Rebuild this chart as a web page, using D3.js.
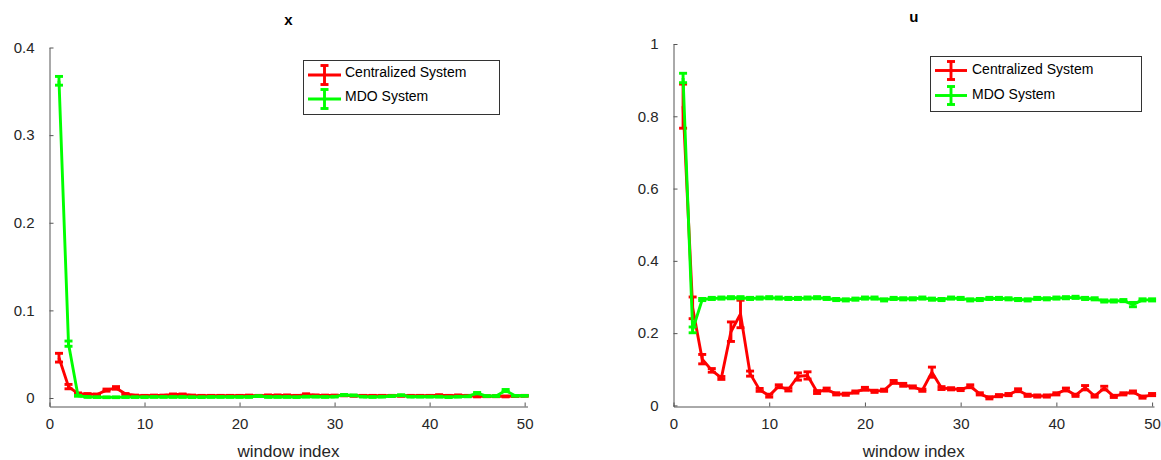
<!DOCTYPE html>
<html>
<head>
<meta charset="utf-8">
<script src="https://cdn.jsdelivr.net/npm/d3@7"></script>
<style>
  html, body { margin: 0; padding: 0; background: #fff; }
  svg { display: block; font-family: "Liberation Sans", Arial, Helvetica, sans-serif; }
</style>
</head>
<body>
<svg id="chart" width="1161" height="460"></svg>
<script>
// window indices shared by both panels
const windowIndex = d3.range(1, 51);

// state error x: mean and error-bar half width per window
const xCentralMean = [0.046, 0.013, 0.005, 0.0045, 0.004, 0.009, 0.0115, 0.0045, 0.0028, 0.0025,
  0.0028, 0.0028, 0.0040, 0.0040, 0.0028, 0.0025, 0.0025, 0.0025, 0.0025, 0.0025,
  0.0028, 0.0025, 0.0030, 0.0030, 0.0030, 0.0025, 0.0042, 0.0030, 0.0028, 0.0028,
  0.0030, 0.0025, 0.0025, 0.0025, 0.0025, 0.0025, 0.0025, 0.0025, 0.0025, 0.0025,
  0.0032, 0.0025, 0.0030, 0.0025, 0.0018, 0.0020, 0.0020, 0.0018, 0.0022, 0.0025];
const xCentralErr = [0.005, 0.0025, 0.0008, 0.0005, 0.0005, 0.0012, 0.0015, 0.0006, 0.0005, 0.0005,
  0.0005, 0.0005, 0.0006, 0.0006, 0.0005, 0.0005, 0.0005, 0.0005, 0.0005, 0.0005,
  0.0005, 0.0005, 0.0005, 0.0005, 0.0005, 0.0005, 0.0006, 0.0005, 0.0005, 0.0005,
  0.0005, 0.0005, 0.0005, 0.0005, 0.0005, 0.0005, 0.0005, 0.0005, 0.0005, 0.0005,
  0.0005, 0.0005, 0.0005, 0.0005, 0.0005, 0.0005, 0.0005, 0.0005, 0.0005, 0.0005];
const xMdoMean = [0.362, 0.062, 0.0025, 0.0012, 0.0010, 0.0008, 0.0008, 0.0010, 0.0010, 0.0010,
  0.0012, 0.0012, 0.0012, 0.0012, 0.0010, 0.0010, 0.0012, 0.0012, 0.0012, 0.0012,
  0.0012, 0.0022, 0.0012, 0.0012, 0.0012, 0.0010, 0.0015, 0.0015, 0.0012, 0.0015,
  0.0035, 0.0030, 0.0015, 0.0012, 0.0015, 0.0022, 0.0032, 0.0015, 0.0015, 0.0015,
  0.0015, 0.0010, 0.0015, 0.0018, 0.0055, 0.0022, 0.0022, 0.0085, 0.0025, 0.0025];
const xMdoErr = [0.005, 0.003, 0.0005, 0.0004, 0.0004, 0.0004, 0.0004, 0.0004, 0.0004, 0.0004,
  0.0004, 0.0004, 0.0004, 0.0004, 0.0004, 0.0004, 0.0004, 0.0004, 0.0004, 0.0004,
  0.0004, 0.0004, 0.0004, 0.0004, 0.0004, 0.0004, 0.0004, 0.0004, 0.0004, 0.0004,
  0.0005, 0.0005, 0.0004, 0.0004, 0.0004, 0.0004, 0.0005, 0.0004, 0.0004, 0.0004,
  0.0004, 0.0004, 0.0004, 0.0004, 0.0008, 0.0004, 0.0004, 0.0012, 0.0004, 0.0004];

// control error u: mean and error-bar half width per window
const uCentralMean = [0.828, 0.270, 0.128, 0.097, 0.076, 0.204, 0.253, 0.088, 0.043, 0.027,
  0.053, 0.044, 0.080, 0.083, 0.037, 0.044, 0.032, 0.031, 0.037, 0.046,
  0.039, 0.042, 0.065, 0.057, 0.051, 0.042, 0.092, 0.048, 0.046, 0.044,
  0.053, 0.032, 0.021, 0.027, 0.030, 0.042, 0.028, 0.026, 0.026, 0.032,
  0.044, 0.028, 0.049, 0.026, 0.048, 0.025, 0.032, 0.037, 0.023, 0.030];
const uCentralErr = [0.061, 0.030, 0.013, 0.005, 0.004, 0.027, 0.038, 0.007, 0.004, 0.004,
  0.004, 0.004, 0.010, 0.010, 0.004, 0.004, 0.003, 0.003, 0.003, 0.004,
  0.003, 0.003, 0.004, 0.004, 0.003, 0.003, 0.014, 0.004, 0.003, 0.003,
  0.004, 0.003, 0.003, 0.003, 0.003, 0.004, 0.003, 0.003, 0.003, 0.003,
  0.004, 0.003, 0.006, 0.003, 0.005, 0.003, 0.003, 0.003, 0.003, 0.003];
const uMdoMean = [0.906, 0.209, 0.293, 0.296, 0.297, 0.298, 0.298, 0.296, 0.297, 0.298,
  0.297, 0.296, 0.296, 0.297, 0.298, 0.296, 0.293, 0.292, 0.294, 0.297,
  0.297, 0.292, 0.296, 0.295, 0.295, 0.297, 0.294, 0.293, 0.297, 0.296,
  0.292, 0.293, 0.296, 0.296, 0.295, 0.293, 0.292, 0.296, 0.295, 0.297,
  0.298, 0.299, 0.296, 0.295, 0.289, 0.289, 0.290, 0.279, 0.292, 0.292];
const uMdoErr = [0.013, 0.008, 0.003, 0.003, 0.003, 0.003, 0.003, 0.003, 0.003, 0.003,
  0.003, 0.003, 0.003, 0.003, 0.003, 0.003, 0.003, 0.003, 0.003, 0.003,
  0.003, 0.003, 0.003, 0.003, 0.003, 0.003, 0.003, 0.003, 0.003, 0.003,
  0.003, 0.003, 0.003, 0.003, 0.003, 0.003, 0.003, 0.003, 0.003, 0.003,
  0.003, 0.003, 0.003, 0.003, 0.003, 0.003, 0.003, 0.006, 0.003, 0.003];

const xTicks = [0, 10, 20, 30, 40, 50];
const xPanelYTicks = [0, 0.1, 0.2, 0.3, 0.4];
const uPanelYTicks = [0, 0.2, 0.4, 0.6, 0.8, 1];
const seriesNames = ["Centralized System", "MDO System"];
const seriesColors = ["#ff0000", "#00ff00"];
const xLabel = "window index";

const svg = d3.select("#chart");
const AXIS_COLOR = "#555";
const TEXT_COLOR = "#262626";
const LINE_W = 2.9;

function drawPanel(cfg) {
  const x = d3.scaleLinear().domain(cfg.xDomain).range(cfg.xRange);
  const y = d3.scaleLinear().domain(cfg.yDomain).range(cfg.yRange);
  const g = svg.append("g");

  // axes: ticks point inward, no box
  const ax = g.append("g")
    .attr("transform", `translate(0,${cfg.yRange[0]})`)
    .call(d3.axisBottom(x).tickValues(xTicks).tickSize(-4).tickPadding(12).tickSizeOuter(0)
      .tickFormat(d3.format("d")));
  const ay = g.append("g")
    .attr("transform", `translate(${cfg.xRange[0]},0)`)
    .call(d3.axisLeft(y).tickValues(cfg.yTicks).tickSize(-4).tickPadding(15).tickSizeOuter(0)
      .tickFormat(d => d === 0 ? "0" : (d === 1 ? "1" : d3.format(".1f")(d))));
  [ax, ay].forEach(a => {
    a.select(".domain").attr("stroke", AXIS_COLOR).attr("stroke-width", 1);
    a.selectAll(".tick line").attr("stroke", AXIS_COLOR);
    a.selectAll(".tick text").attr("fill", TEXT_COLOR).style("font-size", "15px");
  });

  // title and axis label
  g.append("text")
    .attr("x", (cfg.xRange[0] + cfg.xRange[1]) / 2).attr("y", cfg.titleY)
    .attr("text-anchor", "middle").attr("font-weight", "bold").attr("font-size", 15)
    .attr("fill", "#000").text(cfg.title);
  g.append("text")
    .attr("x", (cfg.xRange[0] + cfg.xRange[1]) / 2).attr("y", 457)
    .attr("text-anchor", "middle").attr("font-size", 17)
    .attr("fill", TEXT_COLOR).text(xLabel);

  // error-bar series
  const capHalf = 4;
  cfg.series.forEach((s, k) => {
    const pts = windowIndex.map((w, i) => ({ w, m: s.mean[i], e: s.err[i] }));
    const sg = g.append("g").attr("stroke", seriesColors[k]).attr("fill", "none")
      .attr("stroke-width", LINE_W).attr("stroke-linejoin", "round");
    sg.append("path")
      .attr("d", d3.line().x(d => x(d.w)).y(d => y(d.m))(pts));
    const eb = sg.selectAll("g.eb").data(pts).join("g").attr("class", "eb");
    eb.append("line")
      .attr("x1", d => x(d.w)).attr("x2", d => x(d.w))
      .attr("y1", d => y(d.m - d.e)).attr("y2", d => y(d.m + d.e));
    eb.append("line")
      .attr("x1", d => x(d.w) - capHalf).attr("x2", d => x(d.w) + capHalf)
      .attr("y1", d => y(d.m + d.e)).attr("y2", d => y(d.m + d.e));
    eb.append("line")
      .attr("x1", d => x(d.w) - capHalf).attr("x2", d => x(d.w) + capHalf)
      .attr("y1", d => y(d.m - d.e)).attr("y2", d => y(d.m - d.e));
  });

  // legend
  const L = cfg.legend;
  g.append("rect")
    .attr("x", L.x0).attr("y", L.y0).attr("width", L.x1 - L.x0).attr("height", L.y1 - L.y0)
    .attr("fill", "#fff").attr("stroke", "#333").attr("stroke-width", 1);
  seriesNames.forEach((name, k) => {
    const ly = L.rows[k];
    const lg = g.append("g").attr("stroke", seriesColors[k]).attr("stroke-width", LINE_W);
    lg.append("line").attr("x1", L.lx0).attr("x2", L.lx1).attr("y1", ly).attr("y2", ly);
    const cx = (L.lx0 + L.lx1) / 2;
    lg.append("line").attr("x1", cx).attr("x2", cx).attr("y1", ly - L.eh).attr("y2", ly + L.eh);
    lg.append("line").attr("x1", cx - capHalf).attr("x2", cx + capHalf).attr("y1", ly - L.eh).attr("y2", ly - L.eh);
    lg.append("line").attr("x1", cx - capHalf).attr("x2", cx + capHalf).attr("y1", ly + L.eh).attr("y2", ly + L.eh);
    g.append("text").attr("x", L.tx).attr("y", L.textRows[k])
      .attr("font-size", 14).attr("fill", "#000").text(name);
  });
}

drawPanel({
  title: "x", titleY: 25,
  xDomain: [0, 50.3], xRange: [49.5, 527.5],
  yDomain: [-0.0097, 0.4], yRange: [406.5, 47.5],
  yTicks: xPanelYTicks,
  series: [{ mean: xCentralMean, err: xCentralErr }, { mean: xMdoMean, err: xMdoErr }],
  legend: { x0: 303.5, y0: 60.5, x1: 499.5, y1: 114.5, lx0: 308, lx1: 341, rows: [75, 99], eh: 9.5,
    tx: 345, textRows: [77, 101] }
});

drawPanel({
  title: "u", titleY: 22,
  xDomain: [0, 50.2], xRange: [673.5, 1154],
  yDomain: [-0.003, 1], yRange: [406.5, 44],
  yTicks: uPanelYTicks,
  series: [{ mean: uCentralMean, err: uCentralErr }, { mean: uMdoMean, err: uMdoErr }],
  legend: { x0: 930.5, y0: 56.5, x1: 1141.5, y1: 111.5, lx0: 935, lx1: 967, rows: [70.5, 95.5], eh: 9,
    tx: 972, textRows: [73.5, 98.5] }
});
</script>
</body>
</html>
